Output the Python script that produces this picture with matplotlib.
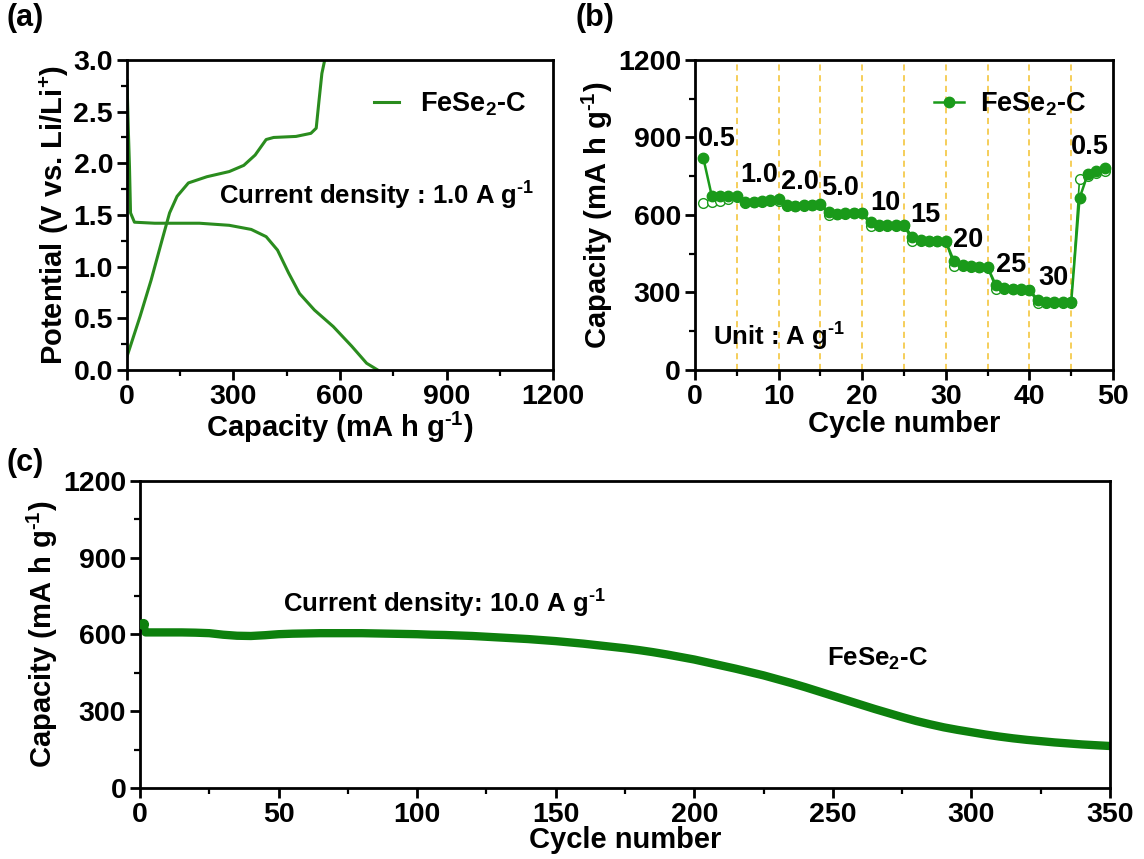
import matplotlib
matplotlib.use('Agg')
import matplotlib.pyplot as plt
from matplotlib.ticker import MultipleLocator, FormatStrFormatter

plt.rcParams['font.family'] = ['Liberation Sans', 'DejaVu Sans']
plt.rcParams['font.weight'] = 'bold'
plt.rcParams['mathtext.fontset'] = 'custom'
plt.rcParams['mathtext.rm'] = 'Liberation Sans:bold'
plt.rcParams['mathtext.bf'] = 'Liberation Sans:bold'
plt.rcParams['mathtext.default'] = 'bf'
plt.rcParams['axes.linewidth'] = 2.0

GREEN_A = '#2a8c1e'
GREEN_B = '#1a9a1a'
GREEN_C = '#0d800d'
GOLD = '#f2c12e'

TICK_FS = 20.5
LABEL_FS = 21
NOTE_FS = 18.5
INV = r'$^{\text{-1}}$'

# (a) galvanostatic profile, 1.0 A g-1
charge_cap = [0, 37, 68, 99, 120, 141, 173, 225, 288, 329, 361, 392, 413, 476, 518, 533, 541, 549, 557]
charge_v = [0.13, 0.52, 0.87, 1.26, 1.52, 1.68, 1.81, 1.87, 1.92, 1.98, 2.08, 2.23, 2.25, 2.26, 2.29, 2.34, 2.61, 2.87, 3.0]
dis_cap = [0, 4, 7, 10, 21, 78, 204, 288, 350, 392, 424, 455, 486, 528, 581, 633, 675, 706]
dis_v = [2.8, 2.3, 1.97, 1.52, 1.43, 1.42, 1.42, 1.40, 1.36, 1.29, 1.16, 0.94, 0.74, 0.58, 0.42, 0.23, 0.065, 0.0]

# (b) rate capability
rate_cycle = list(range(1, 50))
rate_dis = [820, 675, 672, 672, 675, 652, 652, 655, 657, 660,
            638, 636, 638, 640, 642, 610, 605, 607, 608, 608,
            572, 560, 560, 560, 560, 515, 502, 500, 500, 498,
            420, 405, 402, 400, 398, 328, 318, 315, 312, 310,
            272, 265, 263, 262, 262, 665, 760, 770, 780]
rate_cha = [645, 650, 655, 660, 668, 648, 650, 652, 655, 655,
            635, 634, 636, 638, 640, 600, 603, 605, 606, 606,
            558, 557, 558, 558, 558, 498, 499, 498, 498, 496,
            402, 402, 400, 398, 396, 315, 314, 312, 310, 308,
            260, 261, 261, 260, 260, 740, 750, 762, 772]
rate_labels = ['0.5', '1.0', '2.0', '5.0', '10', '15', '20', '25', '30', '0.5']
rate_label_x = [2.6, 7.7, 12.6, 17.4, 22.8, 27.6, 32.7, 37.8, 42.9, 47.2]
rate_label_y = [895, 755, 729, 703, 645, 600, 503, 406, 355, 865]
rate_bounds = [5, 10, 15, 20, 25, 30, 35, 40, 45]

# (c) long-term cycling, 10.0 A g-1
cyc = [1, 2, 5, 10, 15, 20, 25, 30, 35, 40, 45, 50, 55, 60, 65, 70, 75, 80, 85, 90, 95,
       100, 105, 110, 115, 120, 125, 130, 135, 140, 145, 150, 155, 160, 165, 170, 175,
       180, 185, 190, 195, 200, 205, 210, 215, 220, 225, 230, 235, 240, 245, 250, 255,
       260, 265, 270, 275, 280, 285, 290, 295, 300, 305, 310, 315, 320, 325, 330, 335,
       340, 345, 350]
cyc_cap = [642, 608, 608, 608, 608, 607, 605, 599, 595, 594, 597, 601, 603, 604, 605, 605,
           605, 605, 604, 603, 602, 601, 599, 598, 596, 594, 591, 588, 585, 582, 578, 574,
           569, 564, 558, 552, 546, 539, 531, 522, 512, 502, 490, 478, 466, 453, 440, 425,
           410, 394, 377, 360, 343, 326, 309, 293, 277, 262, 249, 237, 227, 218, 209, 201,
           194, 188, 183, 178, 174, 170, 167, 164]


def style(ax):
    ax.tick_params(which='major', direction='out', length=7, width=2.0, labelsize=TICK_FS,
                   top=False, right=False, pad=3)
    ax.tick_params(which='minor', direction='out', length=4, width=1.6, top=False, right=False)
    for lab in ax.get_xticklabels() + ax.get_yticklabels():
        lab.set_fontweight('bold')


fig = plt.figure(figsize=(11.44, 8.59), dpi=100)

# ---- (a)
ax1 = fig.add_axes([0.111, 0.5693, 0.3724, 0.3609])
ax1.plot(charge_cap, charge_v, color=GREEN_A, lw=2.2, label='FeSe$_2$-C')
ax1.plot(dis_cap, dis_v, color=GREEN_A, lw=2.2)
ax1.set_xlim(0, 1200)
ax1.set_ylim(0, 3.0)
ax1.xaxis.set_major_locator(MultipleLocator(300))
ax1.xaxis.set_minor_locator(MultipleLocator(150))
ax1.yaxis.set_major_locator(MultipleLocator(0.5))
ax1.yaxis.set_minor_locator(MultipleLocator(0.25))
ax1.yaxis.set_major_formatter(FormatStrFormatter('%.1f'))
style(ax1)
ax1.set_xlabel('Capacity (mA h g' + INV + ')', fontsize=LABEL_FS, fontweight='bold', labelpad=0)
ax1.set_ylabel('Potential (V vs. Li/Li$^{+}$)', fontsize=LABEL_FS, fontweight='bold', labelpad=2)
ax1.legend(loc='upper right', frameon=False, fontsize=19.5, handlelength=0.9,
           handletextpad=0.8, bbox_to_anchor=(0.995, 0.98))
ax1.text(260, 1.68, 'Current density : 1.0 A g' + INV, fontsize=NOTE_FS, va='center')

# ---- (b)
ax2 = fig.add_axes([0.6075, 0.5693, 0.3654, 0.3609])
for b in rate_bounds:
    ax2.axvline(b, color=GOLD, lw=1.1, ls=(0, (4, 3)), zorder=1)
ax2.plot(rate_cycle, rate_cha, color=GREEN_B, lw=1.2, marker='o', ms=7,
         mfc='white', mec=GREEN_B, mew=1.0, zorder=2)
ax2.plot(rate_cycle, rate_dis, color=GREEN_B, lw=1.8, marker='o', ms=7.5,
         mfc=GREEN_B, mec=GREEN_B, zorder=3, label='FeSe$_2$-C')
for lab, x, y in zip(rate_labels, rate_label_x, rate_label_y):
    ax2.text(x, y, lab, fontsize=19.5, ha='center', va='center')
ax2.text(2.1, 129, 'Unit : A g' + INV, fontsize=NOTE_FS, va='center')
ax2.set_xlim(0, 50)
ax2.set_ylim(0, 1200)
ax2.xaxis.set_major_locator(MultipleLocator(10))
ax2.xaxis.set_minor_locator(MultipleLocator(5))
ax2.yaxis.set_major_locator(MultipleLocator(300))
ax2.yaxis.set_minor_locator(MultipleLocator(150))
style(ax2)
ax2.set_xlabel('Cycle number', fontsize=LABEL_FS, fontweight='bold', labelpad=0)
ax2.set_ylabel('Capacity (mA h g' + INV + ')', fontsize=LABEL_FS, fontweight='bold', labelpad=2)
ax2.legend(loc='upper right', frameon=False, fontsize=19.5, handlelength=1.1,
           handletextpad=0.6, bbox_to_anchor=(0.995, 0.98))

# ---- (c)
ax3 = fig.add_axes([0.1224, 0.0827, 0.8479, 0.3574])
ax3.plot(cyc, cyc_cap, color=GREEN_C, lw=6, solid_capstyle='round', zorder=2)
ax3.plot(cyc[:1], cyc_cap[:1], 'o', color=GREEN_C, ms=7, zorder=3)
ax3.set_xlim(0, 350)
ax3.set_ylim(0, 1200)
ax3.xaxis.set_major_locator(MultipleLocator(50))
ax3.xaxis.set_minor_locator(MultipleLocator(25))
ax3.yaxis.set_major_locator(MultipleLocator(300))
ax3.yaxis.set_minor_locator(MultipleLocator(150))
style(ax3)
ax3.set_xlabel('Cycle number', fontsize=LABEL_FS, fontweight='bold', labelpad=-1)
ax3.set_ylabel('Capacity (mA h g' + INV + ')', fontsize=LABEL_FS, fontweight='bold', labelpad=2)
ax3.text(51.5, 720, 'Current density: 10.0 A g' + INV, fontsize=NOTE_FS, va='center')
ax3.text(248, 505, 'FeSe$_2$-C', fontsize=NOTE_FS, va='center')

fig.text(0.006, 0.997, '(a)', fontsize=22, fontweight='bold', va='top')
fig.text(0.503, 0.997, '(b)', fontsize=22, fontweight='bold', va='top')
fig.text(0.006, 0.478, '(c)', fontsize=22, fontweight='bold', va='top')

fig.savefig('out.png', dpi=100, facecolor='white')
